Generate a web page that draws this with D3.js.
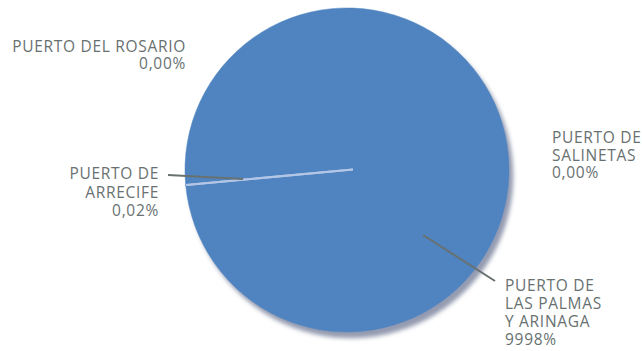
<!DOCTYPE html>
<html>
<head>
<meta charset="utf-8">
<script src="https://cdn.jsdelivr.net/npm/d3@7"></script>
<style>
  body { margin: 0; background: #fff; }
  text { font-family: "Open Sans", sans-serif; font-size: 15.5px; letter-spacing: 0.7px; fill: #687170; }
</style>
</head>
<body>
<svg id="chart" width="642" height="351"></svg>
<script>
// data
var ports = ["PUERTO DE LAS PALMAS Y ARINAGA", "PUERTO DE ARRECIFE", "PUERTO DEL ROSARIO", "PUERTO DE SALINETAS"];
var shares = [99.98, 0.02, 0.00, 0.00];
var labelLines = [
    ["PUERTO DE", "LAS PALMAS", "Y ARINAGA", "9998%"],
    ["PUERTO DE", "ARRECIFE", "0,02%"],
    ["PUERTO DEL ROSARIO", "0,00%"],
    ["PUERTO DE", "SALINETAS", "0,00%"]
];

// label placement (dragged labels, like in the original)
var labelPos = [
    { x: 505, y: 291, anchor: "start", lh: 18, leader: [[495, 281], [423, 235]] },
    { x: 159, y: 179, anchor: "end", lh: 18.5, leader: [[168, 175], [243, 179]] },
    { x: 186, y: 52, anchor: "end", lh: 16.5, leader: null },
    { x: 552, y: 143, anchor: "start", lh: 17.5, leader: null }
];

var cx = 347, cy = 170, radius = 162;
var svg = d3.select("#chart");

var defs = svg.append("defs");
var f = defs.append("filter").attr("id", "shadow")
    .attr("x", "-10%").attr("y", "-10%").attr("width", "130%").attr("height", "130%");
f.append("feDropShadow")
    .attr("dx", 4).attr("dy", 6).attr("stdDeviation", 2.2)
    .attr("flood-color", "#6f7a96").attr("flood-opacity", 0.75);

var pie = d3.pie().sort(null)
    .startAngle(-95.3 * Math.PI / 180)
    .endAngle((360 - 95.3) * Math.PI / 180);
var arcs = pie(shares);
var arc = d3.arc().innerRadius(0).outerRadius(radius);

var g = svg.append("g").attr("transform", "translate(" + cx + "," + cy + ")");

g.append("g").attr("filter", "url(#shadow)")
  .selectAll("path").data(arcs).enter().append("path")
    .attr("d", arc)
    .attr("fill", "#4f84c0")
    .attr("stroke", "#4f84c0")
    .attr("stroke-width", 0.5);

// slice separators (only the ones with a real edge)
var edges = arcs.filter(function(d) { return d.value > 0; }).map(function(d) { return d.startAngle; });
g.selectAll("line.sep").data(edges).enter().append("line")
    .attr("class", "sep")
    .attr("x1", function(a) { return -Math.sin(a) * 6; })
    .attr("y1", function(a) { return Math.cos(a) * 6; })
    .attr("x2", function(a) { return Math.sin(a) * (radius - 0.5); })
    .attr("y2", function(a) { return -Math.cos(a) * (radius - 0.5); })
    .attr("stroke", "#b3c6e6")
    .attr("stroke-width", 2);

// leader lines
labelPos.forEach(function(p) {
    if (!p.leader) return;
    svg.append("line")
        .attr("x1", p.leader[0][0]).attr("y1", p.leader[0][1])
        .attr("x2", p.leader[1][0]).attr("y2", p.leader[1][1])
        .attr("stroke", "#687170").attr("stroke-width", 2);
});

// labels
labelLines.forEach(function(lines, i) {
    var p = labelPos[i];
    var t = svg.append("text").attr("text-anchor", p.anchor);
    lines.forEach(function(s, j) {
        t.append("tspan").attr("x", p.x).attr("y", p.y + j * p.lh).text(s);
    });
});
</script>
</body>
</html>
